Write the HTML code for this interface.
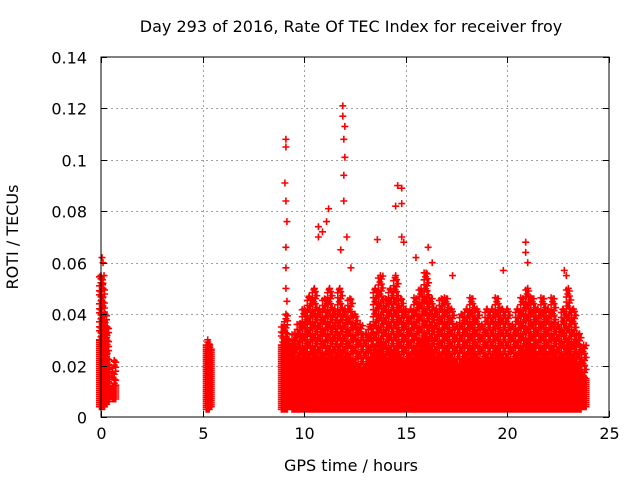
<!DOCTYPE html>
<html><head><meta charset="utf-8"><style>
html,body{margin:0;padding:0;background:#fff}
svg{display:block;font-family:"DejaVu Sans","Liberation Sans",sans-serif}
</style></head><body>
<svg id="chart" width="640" height="480" viewBox="0 0 640 480">
<rect x="0" y="0" width="640" height="480" fill="#fff"/>
<g id="grid"></g>
<g id="marks"></g>
<rect x="101" y="57" width="508" height="360" fill="none" stroke="#000" stroke-width="1"/>
<g id="ticks"></g>
<text x="351" y="32" font-size="16" text-anchor="middle">Day 293 of 2016, Rate Of TEC Index for receiver froy</text>
<text x="351" y="471" font-size="16" text-anchor="middle">GPS time / hours</text>
<text x="18" y="237" font-size="16" text-anchor="middle" transform="rotate(-90 18 237)">ROTI / TECUs</text>
</svg>
<script>
const xTicks=[0,5,10,15,20,25];
const yTicks=[0,0.02,0.04,0.06,0.08,0.1,0.12,0.14];
const yTickLabels=["0","0.02","0.04","0.06","0.08","0.1","0.12","0.14"];
// bins: time, low, dense top, sparse peak
const binTimes=[0,0.1,0.2,0.3,0.65,5.25,5.35,8.95,9.1,9.25,9.4,9.5,9.75,10,10.25,10.5,10.75,11,11.25,11.5,11.75,12,12.25,12.5,12.75,13,13.25,13.5,13.75,14,14.25,14.5,14.75,15,15.25,15.5,15.75,16,16.25,16.5,16.75,17,17.25,17.5,17.75,18,18.25,18.5,18.75,19,19.25,19.5,19.75,20,20.25,20.5,20.75,21,21.25,21.5,21.75,22,22.25,22.5,22.75,23,23.25,23.5,23.75];
const binLow=[0.004,0.004,0.005,0.006,0.007,0.003,0.004,0.003,0.003,0.004,0.004,0.003,0.003,0.003,0.003,0.003,0.003,0.003,0.003,0.003,0.003,0.003,0.003,0.003,0.003,0.003,0.003,0.003,0.003,0.003,0.003,0.003,0.003,0.003,0.003,0.003,0.003,0.003,0.003,0.003,0.003,0.003,0.003,0.003,0.003,0.003,0.003,0.003,0.003,0.003,0.003,0.003,0.003,0.003,0.003,0.003,0.003,0.003,0.003,0.003,0.003,0.003,0.003,0.003,0.003,0.003,0.003,0.003,0.004];
const binDense=[0.03,0.028,0.025,0.02,0.012,0.028,0.026,0.028,0.03,0.025,0.02,0.018,0.022,0.025,0.022,0.025,0.02,0.022,0.025,0.02,0.025,0.02,0.022,0.02,0.018,0.018,0.02,0.025,0.028,0.022,0.025,0.025,0.022,0.02,0.022,0.025,0.028,0.03,0.025,0.02,0.022,0.025,0.022,0.02,0.02,0.022,0.025,0.022,0.02,0.022,0.022,0.025,0.022,0.022,0.02,0.022,0.025,0.028,0.025,0.022,0.025,0.022,0.025,0.02,0.022,0.028,0.022,0.018,0.015];
const binPeak=[0.055,0.05,0.04,0.035,0.022,0.03,0.028,0.035,0.04,0.03,0.03,0.032,0.036,0.042,0.047,0.05,0.042,0.046,0.05,0.042,0.05,0.042,0.046,0.04,0.036,0.032,0.036,0.05,0.055,0.046,0.05,0.055,0.046,0.042,0.042,0.046,0.05,0.056,0.046,0.042,0.046,0.046,0.042,0.036,0.04,0.042,0.046,0.042,0.036,0.042,0.042,0.046,0.042,0.042,0.036,0.042,0.046,0.05,0.046,0.042,0.046,0.042,0.046,0.036,0.042,0.05,0.042,0.032,0.028];
const outT=[9.1,9.1,9.05,9.1,9.15,9.1,9.1,9.1,9.15,10.7,10.7,10.9,11.2,11.1,11.9,11.9,12,11.95,12,11.95,11.95,12.1,11.8,12.3,13.6,14.6,14.5,14.8,14.8,14.8,14.9,15.5,16.1,16.3,17.3,20.9,20.9,21,19.8,22.8,22.9,0.05,0.1,0.15,0.1];
const outV=[0.108,0.105,0.091,0.084,0.076,0.066,0.058,0.05,0.045,0.074,0.07,0.072,0.081,0.076,0.121,0.117,0.113,0.108,0.101,0.094,0.084,0.07,0.065,0.058,0.069,0.09,0.082,0.089,0.083,0.07,0.068,0.062,0.066,0.06,0.055,0.068,0.064,0.06,0.057,0.057,0.055,0.062,0.06,0.055,0.052];

const NS="http://www.w3.org/2000/svg";
const X0=101,X1=609,Y0=417,Y1=57;
function xs(t){return X0+(t/25)*(X1-X0);}
function ys(v){return Y0-(v/0.14)*(Y0-Y1);}
const grid=document.getElementById('grid'),ticks=document.getElementById('ticks'),marks=document.getElementById('marks');
function line(p,x1,y1,x2,y2,st,dash){const l=document.createElementNS(NS,'line');l.setAttribute('x1',x1);l.setAttribute('y1',y1);l.setAttribute('x2',x2);l.setAttribute('y2',y2);l.setAttribute('stroke',st);if(dash)l.setAttribute('stroke-dasharray',dash);p.appendChild(l);return l;}
function txt(p,x,y,s,a){const t=document.createElementNS(NS,'text');t.setAttribute('x',x);t.setAttribute('y',y);t.setAttribute('font-size','16');t.setAttribute('text-anchor',a);t.textContent=s;p.appendChild(t);return t;}
xTicks.forEach((v,i)=>{const x=Math.round(xs(v))+0.5;
 if(i>0&&i<xTicks.length-1){const g=line(grid,x,Y0,x,Y1,'#a0a0a0','2,3');
 
 }
 const a=line(ticks,x,Y0,x,Y0-6,'#000');
 
 const b=line(ticks,x,Y1,x,Y1+6,'#000');
 
 const t=txt(ticks,x,Y0+22,String(v),'middle');
 });
yTicks.forEach((v,i)=>{const y=Math.round(ys(v))+0.5;
 if(i>0&&i<yTicks.length-1){const g=line(grid,X0,y,X1,y,'#a0a0a0','2,3');
 
 }
 const a=line(ticks,X0,y,X0+6,y,'#000');
 
 const b=line(ticks,X1,y,X1-6,y,'#000');
 
 const t=txt(ticks,87,y+6,yTickLabels[i],'end');
 });
let d='';
function plus(x,y){d+='M'+(x-3.5)+' '+y+'h7M'+x+' '+(y-3.5)+'v7';}
const colW=xs(0.25)-xs(0);
for(let i=0;i<binTimes.length;i++){
 const cx=xs(binTimes[i]);const wide=binTimes[i]>=9.45;
 const offs=wide?[-2,-0.5,1,2.5]:[-1.5,0,1.5];
 const yl=ys(binLow[i]),yd=ys(binDense[i]),yp=ys(binPeak[i]);
 for(let y=yl;y>=yd;y-=2){offs.forEach(o=>plus(cx+o,y));}
 let k=0;for(let y=yd;y>=yp;y-=3,k++){plus(cx+offs[k%offs.length],y);if(k%2==0)plus(cx+offs[(k+2)%offs.length],y-1);}
 plus(cx,yp);
}
for(let i=0;i<outT.length;i++){plus(xs(outT[i]),ys(outV[i]));}
const p=document.createElementNS(NS,'path');p.setAttribute('d',d);p.setAttribute('stroke','#ff0000');p.setAttribute('stroke-width','1.6');p.setAttribute('fill','none');


marks.appendChild(p);
</script>
</body></html>
